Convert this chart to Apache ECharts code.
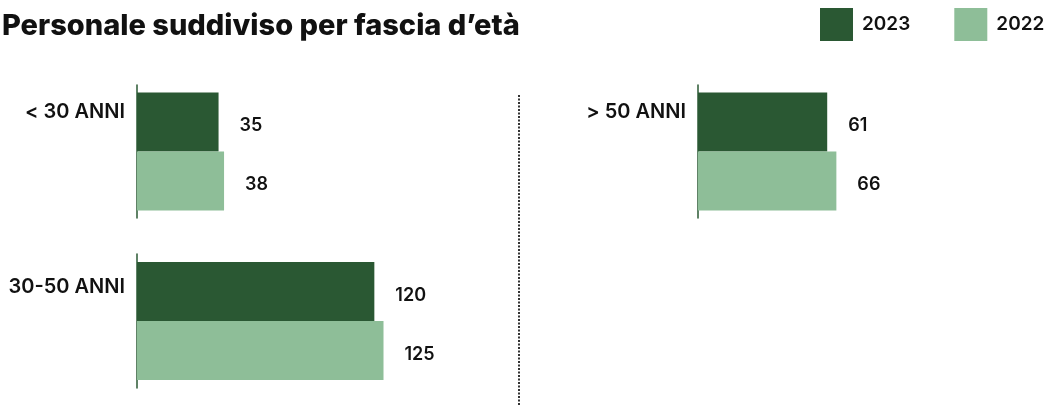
<!DOCTYPE html>
<html>
<head>
<meta charset="utf-8">
<script src="https://cdn.jsdelivr.net/npm/echarts@6/dist/echarts.min.js"></script>
<style>
  html, body { margin: 0; padding: 0; background: #fff; }
  #main { width: 1046px; height: 406px; }
</style>
</head>
<body>
<div id="main"></div>
<script>
// data
const years = ['2023', '2022']
const groups = ['< 30 ANNI', '30-50 ANNI', '> 50 ANNI']
const values2023 = [35, 120, 61]
const values2022 = [38, 125, 66]

const darkGreen = '#2a5833'
const lightGreen = '#8ebe98'
const font = 'Inter, "Noto Sans", sans-serif'

// one small grid per age group
const grids = [
  { left: 137, top: 85, width: 274, height: 133 },
  { left: 137, top: 254, width: 274, height: 134 },
  { left: 698, top: 85, width: 274, height: 133 }
]
const labelShift = [79, 68, 79]

const xAxes = grids.map((g, i) => ({
  type: 'value',
  gridIndex: i,
  min: -9.5,
  max: 140,
  startValue: -9.5,
  show: false
}))

const yAxes = grids.map((g, i) => ({
  type: 'category',
  gridIndex: i,
  data: [groups[i]],
  axisLine: { onZero: false, lineStyle: { color: darkGreen, width: 1.5 } },
  axisTick: { show: false },
  axisLabel: {
    margin: 12,
    formatter: v => '{a|' + v + '}',
    rich: {
      a: {
        color: '#111',
        fontFamily: font,
        fontSize: 20,
        fontWeight: 600,
        padding: [0, 0, labelShift[i], 0]
      }
    }
  },
  splitLine: { show: false }
}))

const series = []
grids.forEach((g, i) => {
  [values2023, values2022].forEach((vals, s) => {
    series.push({
      name: years[s],
      type: 'bar',
      xAxisIndex: i,
      yAxisIndex: i,
      barWidth: 59,
      barGap: '0%',
      data: [vals[i]],
      itemStyle: { color: s === 0 ? darkGreen : lightGreen },
      label: {
        show: true,
        position: 'right',
        distance: 21,
        offset: [0, 4],
        color: '#111',
        fontFamily: font,
        fontSize: 18,
        fontWeight: 600
      },
      emphasis: { disabled: true }
    })
  })
})

const option = {
  animation: false,
  title: {
    text: 'Personale suddiviso per fascia d’età',
    left: -3,
    top: 7,
    textStyle: { fontFamily: font, fontSize: 29, fontWeight: 800, color: '#111' }
  },
  legend: {
    data: years,
    left: 820,
    top: 8,
    width: 300,
    padding: 0,
    icon: 'rect',
    itemWidth: 33,
    itemHeight: 33,
    itemGap: 44,
    textStyle: { fontFamily: font, fontSize: 19, fontWeight: 600, color: '#111', padding: [0, 0, 0, 4] }
  },
  grid: grids,
  xAxis: xAxes,
  yAxis: yAxes,
  series: series,
  graphic: [
    {
      type: 'line',
      shape: { x1: 519, y1: 95, x2: 519, y2: 406 },
      style: { stroke: '#333', lineWidth: 2, lineDash: [2, 1.5] }
    }
  ]
}

const myChart = echarts.init(document.getElementById('main'))
myChart.setOption(option)
</script>
</body>
</html>
